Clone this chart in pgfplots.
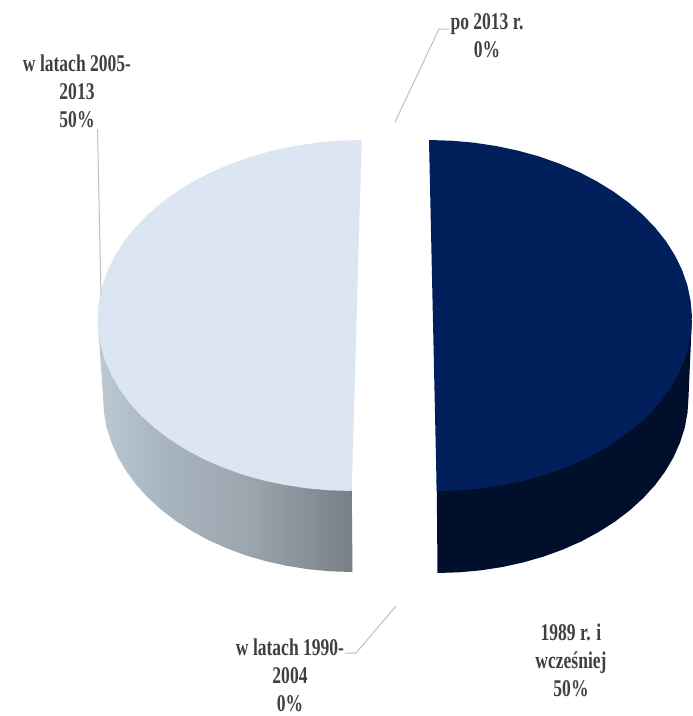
\documentclass[border=0pt]{standalone}
\usepackage{fontspec}
\setmainfont{Liberation Serif}
\usepackage{pgfplots}
\pgfplotsset{compat=1.18}
\definecolor{lightpie}{HTML}{DBE6F2}
\definecolor{darkpie}{HTML}{001F5B}
\definecolor{darkside}{HTML}{00102C}
\definecolor{lblc}{HTML}{404040}
\definecolor{leadc}{HTML}{BFBFBF}
\definecolor{sa}{HTML}{BDC9D3}
\definecolor{sb}{HTML}{A9B5BF}
\definecolor{sc}{HTML}{9AA5AE}
\definecolor{sd}{HTML}{787E86}
\pgfdeclarehorizontalshading{sideL}{100bp}{color(0bp)=(sa); color(25bp)=(sa); color(37bp)=(sb); color(55bp)=(sc); color(75bp)=(sd); color(100bp)=(sd)}
\newcommand{\lbl}[1]{\scalebox{0.73}[1]{\fontsize{24}{28}\selectfont\bfseries\color{lblc}\begin{tabular}{@{}c@{}}#1\end{tabular}}}
\begin{document}
\begin{tikzpicture}
\useasboundingbox (0,0) rectangle (693pt,716pt);
\begin{axis}[scale only axis,width=693pt,height=716pt,xmin=0,xmax=693,ymin=0,ymax=716,y dir=reverse,hide axis,clip=false]
% side of the light half
\addplot[draw=none,shade,shading=sideL,shading angle=0] coordinates {
(97.7,320)(103.0,396.5)(103.9,411.8)(106.5,427.0)(111.2,441.9)(117.6,456.5)(125.9,470.7)(135.9,484.3)(147.5,497.2)(160.7,509.3)(175.4,520.6)(191.6,530.9)(208.8,540.3)(227.2,548.5)(246.5,555.6)(266.8,561.4)(287.6,566.0)(308.9,569.3)(330.6,571.3)(352.5,572.0)(351.7,480)
} --cycle;
% side of the dark half
\addplot[draw=none,fill=darkside] coordinates {
(437.5,573)(459.4,572.3)(481.1,570.3)(502.5,567.0)(523.3,562.4)(543.6,556.6)(563.0,549.5)(581.5,541.3)(598.8,531.9)(615.0,521.6)(629.8,510.3)(643.1,498.2)(654.9,485.3)(665.0,471.7)(673.4,457.5)(679.9,442.9)(684.7,428.0)(687.5,412.8)(688.5,397.5)(691.9,320)(436.7,480)
} --cycle;
% top of the light half
\addplot[draw=none,fill=lightpie] coordinates {
(361.7,140.0)(339.1,140.7)(316.6,142.7)(294.5,146.0)(272.8,150.6)(251.7,156.4)(231.5,163.5)(212.2,171.7)(194.0,181.1)(177.1,191.4)(161.5,202.7)(147.4,214.8)(134.9,227.7)(124.1,241.3)(115.0,255.5)(107.8,270.1)(102.5,285.0)(99.1,300.2)(97.7,315.5)(98.3,330.8)(100.7,346.0)(105.2,360.9)(111.6,375.5)(119.9,389.7)(129.9,403.3)(141.6,416.2)(155.1,428.3)(170.1,439.6)(186.4,449.9)(204.0,459.3)(222.9,467.5)(242.5,474.6)(263.4,480.4)(284.9,485.0)(306.8,488.3)(329.1,490.3)(351.7,491.0)
} --cycle;
% top of the dark half
\addplot[draw=none,fill=darkpie] coordinates {
(429.0,140.0)(451.6,140.7)(474.1,142.7)(496.1,146.0)(517.8,150.6)(538.9,156.4)(559.0,163.5)(578.3,171.7)(596.4,181.1)(613.2,191.4)(628.8,202.7)(642.8,214.8)(655.2,227.7)(666.0,241.3)(675.0,255.5)(682.1,270.1)(687.3,285.0)(690.5,300.2)(691.9,315.5)(691.2,330.8)(688.6,346.0)(684.1,360.9)(677.6,375.5)(669.2,389.7)(659.1,403.3)(647.3,416.2)(633.7,428.3)(618.7,439.6)(602.3,449.9)(584.6,459.3)(565.7,467.5)(545.8,474.6)(525.1,480.4)(503.6,485.0)(481.6,488.3)(459.3,490.3)(436.7,491.0)
} --cycle;
% leader lines
\addplot[leadc,line width=1pt] coordinates {(97.5,129)(101,296)};
\addplot[leadc,line width=1pt] coordinates {(395,122)(439,29)(449,29)};
\addplot[leadc,line width=1pt] coordinates {(396,606)(356,653)(345,653)};
% labels
\node at (axis cs:77,94) {\lbl{w latach 2005-\\2013\\50\%}};
\node at (axis cs:487,38) {\lbl{po 2013 r.\\0\%}};
\node at (axis cs:290,678) {\lbl{w latach 1990-\\2004\\0\%}};
\node at (axis cs:571,663) {\lbl{1989 r. i\\wcześniej\\50\%}};
\end{axis}
\end{tikzpicture}
\end{document}
